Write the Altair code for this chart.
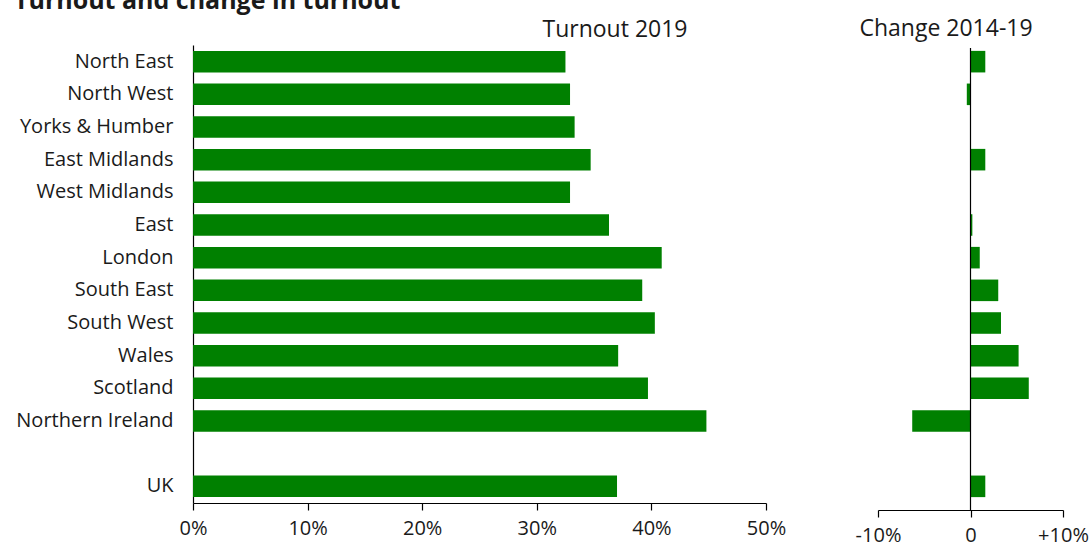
import altair as alt
import pandas as pd

# ---- data ----
regions = ["North East", "North West", "Yorks & Humber", "East Midlands", "West Midlands",
           "East", "London", "South East", "South West", "Wales", "Scotland",
           "Northern Ireland", "UK"]
turnout_2019 = [32.5, 32.9, 33.3, 34.7, 32.9, 36.3, 40.9, 39.2, 40.3, 37.1, 39.7, 44.8, 37.0]
change_2014_19 = [1.6, -0.4, 0.05, 1.6, 0.05, 0.2, 1.0, 3.0, 3.3, 5.2, 6.3, -6.3, 1.6]
row_order = regions[:12] + [" "] + regions[12:]
turnout_ticks = [0, 10, 20, 30, 40, 50]
change_ticks = [-10, 0, 10]

df = pd.DataFrame({"region": regions, "turnout": turnout_2019, "change": change_2014_19})

FONT = "Open Sans"
GREEN = "#008000"
TXT = "#1a1a1a"
LBL = 20

def y_enc():
    return alt.Y(
        "region:N",
        scale=alt.Scale(domain=row_order, paddingInner=0.34, paddingOuter=0.18),
        axis=alt.Axis(title=None, ticks=False, labelFontSize=LBL, labelPadding=20,
                      labelColor=TXT, labelFont=FONT, domainColor="black", domainWidth=1.2),
    )

left = alt.Chart(df).mark_bar(color=GREEN).encode(
    x=alt.X("turnout:Q",
            scale=alt.Scale(domain=[0, 50], range=[0, 573], nice=False, zero=False),
            axis=alt.Axis(title=None, orient="bottom", values=turnout_ticks, grid=False,
                          labelExpr="datum.value + '%'", tickSize=7, tickColor="black",
                          domainColor="black", domainWidth=1.2, tickWidth=1.2,
                          labelFontSize=LBL, labelColor=TXT, labelFont=FONT, labelPadding=8,
                          labelFlush=False)),
    y=y_enc(),
)

chg_scale = dict(domain=[-10, 10], range=[685, 870], nice=False, zero=False)

right = alt.Chart(df).mark_bar(color=GREEN).encode(
    x=alt.X("change:Q", scale=alt.Scale(**chg_scale),
            axis=alt.Axis(title=None, orient="bottom", values=change_ticks, grid=False,
                          labelExpr="datum.value > 0 ? '+' + datum.value + '%' : (datum.value < 0 ? datum.value + '%' : '0')",
                          tickSize=7, tickColor="black", domainColor="black", domainWidth=1.2,
                          tickWidth=1.2, offset=7, labelFontSize=LBL, labelColor=TXT,
                          labelFont=FONT, labelPadding=8, labelFlush=False)),
    y=y_enc(),
)

zero_line = alt.Chart(pd.DataFrame({"z": [0]})).mark_rule(color="black", strokeWidth=1.2).encode(
    x=alt.X("z:Q", scale=alt.Scale(**chg_scale), axis=None),
    y=alt.value(3),
    y2=alt.value(465),
)

titles = pd.DataFrame({"t": [0]})
main_title = alt.Chart(titles).mark_text(
    text="Turnout and change in turnout", font=FONT, fontSize=25, fontWeight="bold",
    align="left", baseline="alphabetic", color=TXT,
).encode(x=alt.value(-179), y=alt.value(-36))

left_title = alt.Chart(titles).mark_text(
    text="Turnout 2019", font=FONT, fontSize=23, align="center", baseline="alphabetic", color=TXT,
).encode(x=alt.value(422), y=alt.value(-8))

right_title = alt.Chart(titles).mark_text(
    text="Change 2014-19", font=FONT, fontSize=23, align="center", baseline="alphabetic", color=TXT,
).encode(x=alt.value(753), y=alt.value(-9))

chart = alt.layer(left, right, zero_line, main_title, left_title, right_title).resolve_scale(
    x="independent"
).properties(
    width=870, height=458,
    autosize=alt.AutoSizeParams(type="none"),
    padding={"left": 193, "top": 45, "right": 27, "bottom": 41},
    background="white",
).configure_view(stroke=None)

chart.save("out.html", embed_options={"renderer": "svg", "actions": False})
